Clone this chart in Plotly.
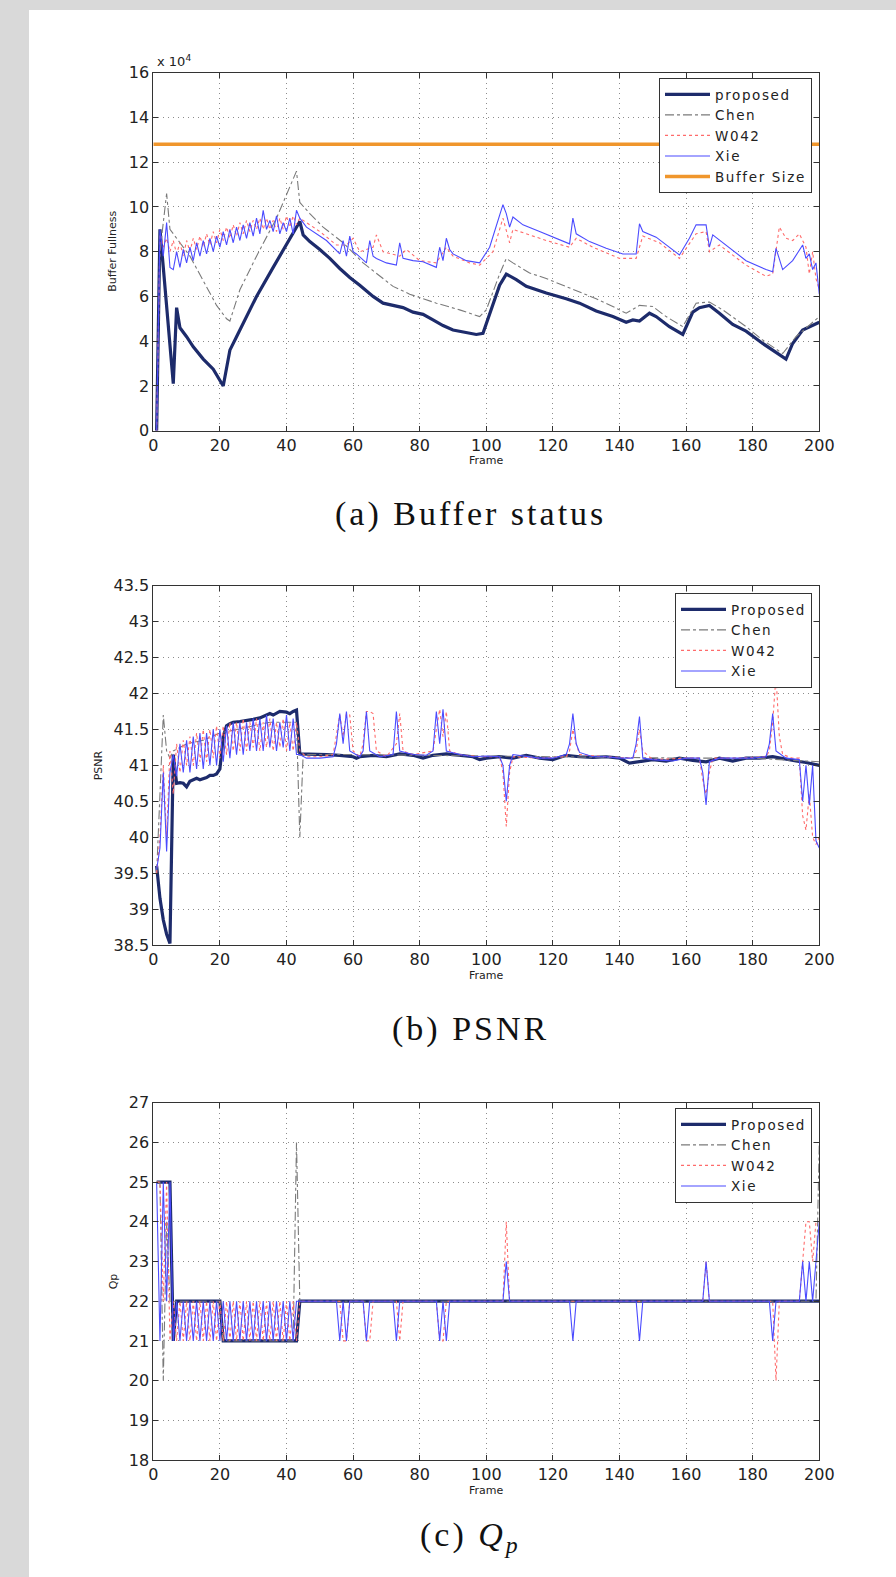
import plotly.graph_objects as go

W, H = 896, 1577

# ---------------- DATA ----------------
# (a) Buffer status (units of 1e4 bits)
buf_proposed_f = [1, 2, 3, 6, 7, 8, 10, 12, 15, 18, 21, 22, 23, 25, 27, 31, 36, 41, 44, 45, 47, 50, 53, 56, 59, 62,
                  66, 69, 72, 75, 78, 81, 84, 87, 90, 94, 97, 99, 100, 102, 104, 106, 109, 112, 118, 124, 128, 133,
                  138, 142, 144, 146, 149, 151, 155, 159, 162, 164, 167, 170, 174, 178, 183, 190, 192, 195, 200]
buf_proposed_v = [0.0, 9.0, 7.3, 2.1, 5.5, 4.6, 4.2, 3.75, 3.2, 2.75, 2.0, 2.9, 3.6, 4.2, 4.8, 6.0, 7.3, 8.6, 9.35,
                  8.75, 8.45, 8.1, 7.7, 7.25, 6.85, 6.5, 6.0, 5.7, 5.6, 5.5, 5.3, 5.2, 4.95, 4.7, 4.5, 4.4, 4.3, 4.35,
                  4.8, 5.6, 6.5, 7.0, 6.75, 6.45, 6.15, 5.9, 5.7, 5.35, 5.1, 4.85, 4.95, 4.9, 5.25, 5.1, 4.65, 4.3,
                  5.3, 5.5, 5.6, 5.25, 4.75, 4.45, 3.9, 3.2, 3.9, 4.5, 4.85]

buf_chen_f = [1, 2, 4, 5, 8, 11, 15, 19, 22, 23, 26, 31, 37, 43, 44, 47, 51, 57, 63, 68, 72, 77, 85, 92, 98, 100,
              102, 104, 106, 108, 113, 118, 123, 128, 133, 138, 142, 146, 150, 154, 159, 163, 167, 171, 178, 183,
              189, 193, 200]
buf_chen_v = [0.0, 8.0, 10.6, 9.0, 8.4, 7.8, 6.7, 5.6, 5.0, 4.9, 6.3, 7.8, 9.5, 11.6, 10.2, 9.7, 9.1, 8.4, 7.5, 6.9,
              6.45, 6.1, 5.7, 5.4, 5.1, 5.4, 6.2, 7.0, 7.7, 7.5, 7.05, 6.8, 6.5, 6.2, 5.9, 5.55, 5.25, 5.6, 5.55,
              5.1, 4.65, 5.7, 5.75, 5.4, 4.65, 4.05, 3.45, 4.2, 5.1]

buf_w042_f = list(range(1, 45)) + [46, 50, 55, 58, 60, 62, 66, 67, 69, 74, 76, 80, 85, 88, 90, 95, 98, 102, 105,
                                    107, 108, 112, 118, 125, 127, 132, 140, 145, 147, 152, 158, 163, 166, 167, 170,
                                    178, 184, 186, 188, 190, 192, 194, 196, 197, 198, 199, 200]
buf_w042_v = [0.0, 8.8, 8.2, 8.6, 8.0, 8.5, 7.9, 8.4, 7.8, 8.5, 8.0, 8.6, 8.1, 8.7, 8.2, 8.8, 8.3, 8.9, 8.4, 9.0,
              8.5, 9.1, 8.6, 9.2, 8.7, 9.3, 8.8, 9.4, 8.9, 9.4, 9.0, 9.5, 9.0, 9.5, 9.0, 9.4, 8.9, 9.5, 9.0, 9.6,
              9.1, 9.6, 9.2, 9.5,
              9.3, 8.9, 8.3, 8.3, 8.6, 8.0, 8.2, 8.75, 8.0, 7.8, 8.1, 7.6, 7.5, 8.2, 7.8, 7.5, 7.4, 8.0, 9.5,
              8.4, 9.0, 8.8, 8.5, 8.2, 8.6, 8.2, 7.7, 7.7, 8.7, 8.4, 7.7, 8.8, 8.9, 8.0, 8.3,
              7.4, 6.9, 7.0, 9.1, 8.6, 8.5, 8.8, 8.2, 7.0, 8.0, 6.8, 6.3]

buf_xie_f = list(range(1, 45)) + [46, 49, 52, 56, 57, 58, 59, 60, 61, 64, 65, 66, 67, 70, 73, 74, 75, 78, 81, 85, 86,
                                   87, 88, 89, 90, 94, 98, 101, 104, 105, 106, 107, 108, 111, 116, 121, 125, 126, 127,
                                   131, 136, 141, 145, 146, 147, 151, 155, 158, 161, 163, 166, 167, 168, 172, 178,
                                   184, 186, 187, 189, 192, 194, 195, 196, 197, 198, 199, 200]
buf_xie_v = [0.0, 9.0, 7.8, 9.3, 7.3, 7.2, 8.0, 7.3, 8.1, 7.5, 8.2, 7.6, 8.4, 7.8, 8.5, 7.9, 8.6, 8.0, 8.7, 8.2,
             8.9, 8.3, 9.0, 8.4, 9.1, 8.5, 9.2, 8.6, 9.3, 8.7, 9.5, 8.8, 9.85, 9.0, 9.4, 8.9, 9.6, 8.8, 9.3, 8.9,
             9.5, 8.8, 9.85, 9.5,
             9.1, 8.8, 8.5, 7.9, 8.5, 7.8, 8.7, 8.0, 7.9, 7.5, 8.5, 7.8, 7.7, 7.5, 7.4, 8.4, 7.7, 7.6, 7.55, 7.3,
             8.2, 7.6, 8.6, 8.1, 7.9, 7.6, 7.5, 8.2, 9.6, 10.1, 9.7, 9.1, 9.55, 9.2, 8.9, 8.6, 8.35, 9.5, 8.8,
             8.45, 8.15, 7.9, 7.9, 9.25, 8.9, 8.65, 8.2, 7.85, 8.6, 9.2, 9.2, 8.2, 8.75, 8.3, 7.6,
             7.2, 7.1, 8.15, 7.2, 7.6, 8.1, 8.3, 7.7, 7.9, 7.2, 7.5, 6.1]

buffer_size_f = [0, 200]
buffer_size_v = [12.8, 12.8]

# (b) PSNR
psnr_proposed_f = [1, 2, 3, 4, 5, 6, 7, 8, 9, 10, 11, 12, 13, 14, 15, 16, 17, 18, 19, 20, 21, 22, 23, 24, 26, 28,
                   30, 32, 34, 35, 36, 38, 40, 41, 42, 43, 44, 48, 52, 56, 60, 61, 62, 66, 70, 74, 78, 81, 84, 88,
                   92, 96, 98, 100, 104, 108, 112, 116, 120, 124, 128, 132, 136, 140, 143, 146, 150, 154, 158, 162,
                   166, 170, 174, 178, 182, 186, 190, 193, 196, 200]
psnr_proposed_v = [39.6, 39.15, 38.85, 38.65, 38.52, 41.15, 40.75, 40.76, 40.75, 40.7, 40.78, 40.8, 40.82, 40.8,
                   40.81, 40.83, 40.86, 40.86, 40.88, 40.95, 41.4, 41.55, 41.58, 41.6, 41.61, 41.62, 41.64, 41.66,
                   41.7, 41.72, 41.7, 41.75, 41.74, 41.72, 41.75, 41.77, 41.16, 41.16, 41.15, 41.14, 41.12, 41.1,
                   41.12, 41.14, 41.12, 41.16, 41.14, 41.1, 41.14, 41.16, 41.14, 41.12, 41.08, 41.1, 41.12, 41.1,
                   41.14, 41.1, 41.08, 41.14, 41.12, 41.11, 41.12, 41.1, 41.03, 41.05, 41.08, 41.06, 41.1, 41.07,
                   41.05, 41.1, 41.06, 41.1, 41.1, 41.12, 41.08, 41.06, 41.04, 41.0]

psnr_chen_f = [1, 2, 3, 4, 5, 6, 10, 15, 20, 25, 30, 35, 40, 43, 44, 45, 60, 80, 100, 120, 140, 160, 180, 200]
psnr_chen_v = [39.5, 40.5, 41.7, 41.2, 41.1, 41.2, 41.3, 41.35, 41.45, 41.5, 41.55, 41.6, 41.6, 41.6, 40.0, 41.15,
               41.15, 41.14, 41.12, 41.12, 41.1, 41.1, 41.1, 41.05]

psnr_w042_f = list(range(1, 45)) + [46, 50, 54, 55, 56, 57, 58, 59, 60, 62, 63, 64, 65, 66, 67, 70, 73, 74, 75, 78,
                                     84, 85, 86, 87, 88, 89, 92, 98, 104, 105, 106, 107, 108, 116, 124, 125, 126, 127,
                                     128, 136, 144, 145, 146, 147, 150, 160, 164, 165, 166, 167, 168, 176, 184, 185,
                                     186, 187, 188, 189, 192, 194, 195, 196, 197, 198, 199, 200]
psnr_w042_v = [39.5, 40.0, 41.0, 40.0, 41.2, 40.6, 41.3, 40.9, 41.35, 41.0, 41.4, 41.0, 41.45, 41.05, 41.5, 41.05,
               41.5, 41.1, 41.55, 41.1, 41.55, 41.15, 41.6, 41.2, 41.6, 41.2, 41.65, 41.2, 41.6, 41.25, 41.65, 41.2,
               41.6, 41.25, 41.65, 41.2, 41.6, 41.25, 41.65, 41.2, 41.6, 41.2, 41.6, 41.2,
               41.12, 41.12, 41.15, 41.4, 41.7, 41.4, 41.72, 41.7, 41.2, 41.12, 41.3, 41.75, 41.75, 41.72, 41.2,
               41.12, 41.3, 41.72, 41.2, 41.15, 41.2, 41.5, 41.78, 41.4, 41.75, 41.2, 41.15, 41.12, 41.12, 40.9,
               40.15, 40.9, 41.12, 41.1, 41.12, 41.2, 41.5, 41.3, 41.15, 41.12, 41.1, 41.2, 41.5, 41.2, 41.08,
               41.1, 41.1, 40.8, 40.6, 40.9, 41.1, 41.1, 41.12, 41.2, 41.6, 42.25, 41.4, 41.15, 41.1, 41.1, 40.3,
               40.1, 40.6, 40.0, 39.9, 40.0]

psnr_xie_f = list(range(1, 45)) + [46, 50, 54, 55, 56, 57, 58, 59, 62, 63, 64, 65, 68, 72, 73, 74, 78, 82, 84, 85,
                                    86, 87, 88, 92, 96, 100, 104, 105, 106, 107, 108, 112, 116, 120, 124, 125, 126,
                                    127, 128, 132, 136, 140, 144, 145, 146, 147, 150, 156, 160, 164, 165, 166, 167,
                                    170, 176, 180, 184, 185, 186, 187, 190, 194, 195, 196, 197, 198, 199, 200]
psnr_xie_v = [39.55, 39.85, 40.9, 39.8, 40.9, 41.15, 40.85, 41.3, 40.9, 41.35, 40.9, 41.4, 40.95, 41.45, 40.95,
              41.45, 41.0, 41.5, 41.0, 41.5, 41.05, 41.55, 41.1, 41.6, 41.15, 41.6, 41.15, 41.6, 41.2, 41.65, 41.2,
              41.65, 41.2, 41.7, 41.25, 41.65, 41.2, 41.6, 41.25, 41.7, 41.2, 41.65, 41.15, 41.15,
              41.1, 41.1, 41.12, 41.3, 41.72, 41.3, 41.75, 41.2, 41.12, 41.2, 41.75, 41.2, 41.12, 41.15, 41.75,
              41.2, 41.15, 41.14, 41.2, 41.75, 41.3, 41.78, 41.2, 41.15, 41.12, 41.13, 41.12, 41.0, 40.5, 41.0,
              41.15, 41.12, 41.1, 41.1, 41.15, 41.3, 41.72, 41.3, 41.18, 41.12, 41.12, 41.1, 41.1, 41.3, 41.68,
              41.1, 41.08, 41.06, 41.1, 41.1, 40.9, 40.45, 41.05, 41.1, 41.1, 41.1, 41.12, 41.3, 41.72, 41.2,
              41.1, 41.08, 40.5, 41.0, 40.45, 41.0, 39.95, 39.85]

# (c) Qp
qp_proposed_f = [1, 5, 6, 7, 20, 21, 43, 44, 200]
qp_proposed_v = [25, 25, 21, 22, 22, 21, 21, 22, 22]

qp_chen_f = [1, 2, 3, 4, 5, 20, 21, 42, 43, 44, 199, 200]
qp_chen_v = [25, 25, 20, 24, 22, 22, 21, 21, 26, 22, 22, 26]

qp_w042_f = list(range(1, 45)) + [56, 57, 58, 59, 60, 63, 64, 65, 66, 73, 74, 75, 85, 86, 87, 88, 105, 106, 107,
                                   165, 166, 167, 186, 187, 188, 194, 195, 196, 197, 198, 199, 200]
qp_w042_v = [25, 25, 22, 25, 21, 22, 21, 22, 21, 22, 21, 22, 21, 22, 21, 22, 21, 22, 21, 22, 21, 22, 21, 22, 21,
             22, 21, 22, 21, 22, 21, 22, 21, 22, 21, 22, 21, 22, 21, 22, 21, 22, 21, 22,
             22, 21, 21, 22, 22, 22, 21, 21, 22, 22, 21, 22, 22, 21, 21, 22, 22, 24, 22, 22, 23, 22, 22, 20, 22,
             22, 23, 24, 24, 23, 24, 24]

qp_xie_f = list(range(1, 45)) + [55, 56, 57, 58, 59, 63, 64, 65, 72, 73, 74, 85, 86, 87, 88, 89, 105, 106, 107, 125,
                                  126, 127, 145, 146, 147, 165, 166, 167, 185, 186, 187, 194, 195, 196, 197, 198, 199,
                                  200]
qp_xie_v = [25, 21, 25, 22, 25, 21, 22, 21, 22, 21, 22, 21, 22, 21, 22, 21, 22, 21, 22, 21, 22, 21, 22, 21, 22, 21,
            22, 21, 22, 21, 22, 21, 22, 21, 22, 21, 22, 21, 22, 21, 22, 21, 22, 22,
            22, 21, 22, 21, 22, 22, 21, 22, 22, 21, 22, 22, 21, 22, 21, 22, 22, 23, 22, 22, 21, 22, 22, 21, 22,
            22, 23, 22, 22, 21, 22, 22, 23, 22, 23, 22, 23, 24]

legend_names_a = ["proposed", "Chen", "W042", "Xie", "Buffer Size"]
legend_names_bc = ["Proposed", "Chen", "W042", "Xie"]
captions = ["(a) Buffer status", "(b) PSNR", "(c) <i>Q</i><sub><i>p</i></sub>"]
y_titles = ["Buffer Fullness", "PSNR", "Qp"]

# ---------------- STYLE ----------------
C_PROP = "#1d2b6b"
C_CHEN = "#7a7a7a"
C_W042 = "#ff6b6b"
C_XIE = "#4b4bff"
C_BUF = "#f0962c"

def pxx(p):
    return p / W

def pxy(p):
    return 1 - p / H

def spaced(t, ls):
    return '<span style="letter-spacing:%spx">%s</span>' % (ls, t)

panels = [
    dict(top=72.7, bottom=430.7, yr=[0, 16], dt=2, xlab=461, ytitle_x=113),
    dict(top=585.7, bottom=945.0, yr=[38.5, 43.5], dt=0.5, xlab=975, ytitle_x=98),
    dict(top=1102.7, bottom=1460.0, yr=[18, 27], dt=1, xlab=1490, ytitle_x=113),
]
x_left, x_right = 153.3, 819.3

fig = go.Figure()

series = [
    [(buf_proposed_f, buf_proposed_v), (buf_chen_f, buf_chen_v), (buf_w042_f, buf_w042_v), (buf_xie_f, buf_xie_v),
     (buffer_size_f, buffer_size_v)],
    [(psnr_proposed_f, psnr_proposed_v), (psnr_chen_f, psnr_chen_v), (psnr_w042_f, psnr_w042_v),
     (psnr_xie_f, psnr_xie_v)],
    [(qp_proposed_f, qp_proposed_v), (qp_chen_f, qp_chen_v), (qp_w042_f, qp_w042_v), (qp_xie_f, qp_xie_v)],
]
styles = [
    dict(color=C_PROP, width=3.2),
    dict(color=C_CHEN, width=1.1, dash="dashdot"),
    dict(color=C_W042, width=1.1, dash="dot"),
    dict(color=C_XIE, width=1.1),
    dict(color=C_BUF, width=3.5),
]

for i, ser in enumerate(series):
    names = legend_names_a if i == 0 else legend_names_bc
    sfx = "" if i == 0 else str(i + 1)
    for j in range(len(ser)):
        f, v = ser[j]
        fig.add_trace(go.Scatter(
            x=f, y=v, mode="lines", name=spaced(names[j], 1.6), line=styles[j],
            xaxis="x" + sfx, yaxis="y" + sfx, legend="legend" + sfx, showlegend=True,
        ))

axis_common = dict(
    showline=True, linecolor="#333", linewidth=1, mirror="ticks", ticks="inside", ticklen=5,
    tickcolor="#333", showgrid=True, gridcolor="#8c8c8c", griddash="1px,4px", gridwidth=1, zeroline=False,
    automargin=False,
    tickfont=dict(family="DejaVu Sans", size=16, color="#222"),
)

layout = dict(
    width=W, height=H, autosize=False,
    margin=dict(l=0, r=0, t=0, b=0, pad=0, autoexpand=False),
    paper_bgcolor="#d9d9d9", plot_bgcolor="white",
    shapes=[dict(type="rect", xref="paper", yref="paper", x0=pxx(29), x1=1.01, y0=-0.01, y1=pxy(10),
                 fillcolor="white", line=dict(width=0), layer="below")],
    annotations=[],
)

legend_tops = [78, 593, 1108]
for i, p in enumerate(panels):
    sfx = "" if i == 0 else str(i + 1)
    layout["xaxis" + sfx] = dict(axis_common, domain=[pxx(x_left), pxx(x_right)], range=[0, 200], dtick=20,
                                 tick0=0, anchor="y" + sfx)
    layout["yaxis" + sfx] = dict(axis_common, domain=[pxy(p["bottom"]), pxy(p["top"])], range=p["yr"],
                                 dtick=p["dt"], tick0=p["yr"][0], anchor="x" + sfx)
    layout["legend" + sfx] = dict(
        x=pxx(812), y=pxy(legend_tops[i]), xanchor="right", yanchor="top", xref="paper", yref="paper",
        bgcolor="white", bordercolor="#333", borderwidth=1, tracegroupgap=0, itemwidth=45,
        font=dict(family="DejaVu Sans", size=13.5, color="#222"),
    )
    layout["annotations"].append(dict(
        text="Frame", x=pxx((x_left + x_right) / 2), y=pxy(p["xlab"]), xref="paper", yref="paper",
        showarrow=False, font=dict(family="DejaVu Sans", size=11, color="#222"),
        xanchor="center", yanchor="middle"))
    layout["annotations"].append(dict(
        text=y_titles[i], x=pxx(p["ytitle_x"]), y=pxy((p["top"] + p["bottom"]) / 2), xref="paper", yref="paper",
        showarrow=False, textangle=-90, font=dict(family="DejaVu Sans", size=11, color="#222"),
        xanchor="center", yanchor="middle"))

cap_y = [514, 1029, 1537]
for i, c in enumerate(captions):
    layout["annotations"].append(dict(
        text=spaced(c, 3.0), x=pxx(470), y=pxy(cap_y[i]),
        xref="paper", yref="paper", showarrow=False,
        font=dict(family="Liberation Serif", size=34, color="#111"), xanchor="center", yanchor="middle"))

layout["annotations"].append(dict(
    text="x 10<sup>4</sup>", x=pxx(155), y=pxy(61), xref="paper", yref="paper", showarrow=False,
    font=dict(family="DejaVu Sans", size=13, color="#222"), xanchor="left", yanchor="middle"))

fig.update_layout(**layout)
fig.write_html("out.html")
